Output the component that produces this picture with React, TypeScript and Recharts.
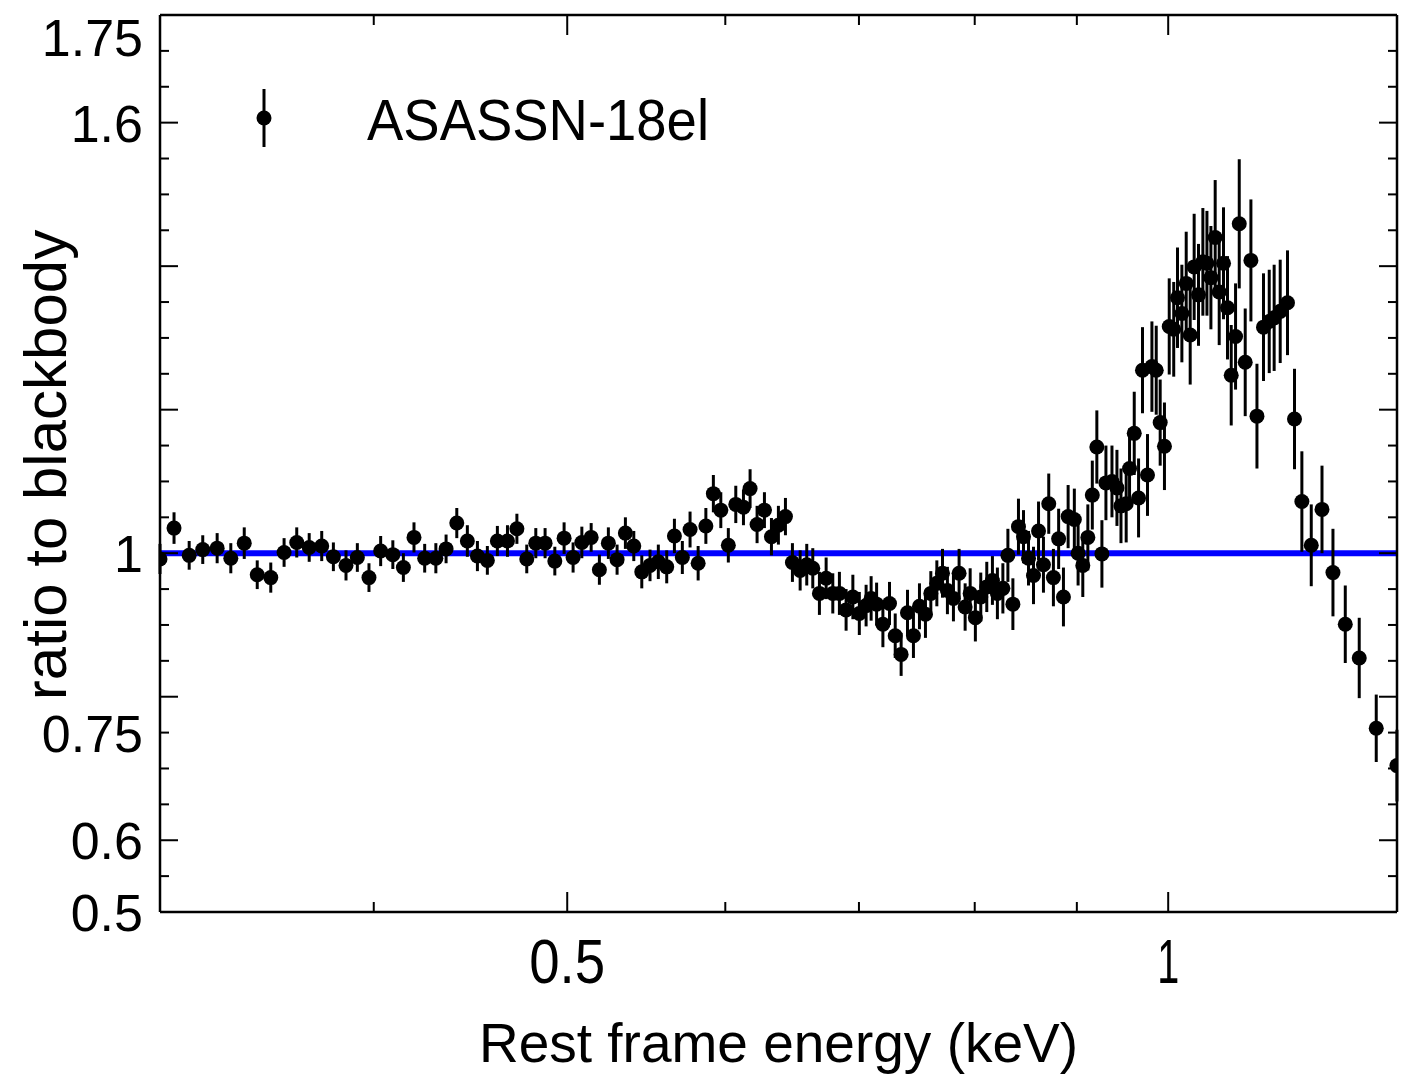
import React from "react";
import { ComposedChart, Scatter, Line, XAxis, YAxis, ErrorBar, Legend } from "recharts";

// rest frame energy (keV) of each bin
const energy = [
  0.3126, 0.3177, 0.3233, 0.3284, 0.3339, 0.3392, 0.3445, 0.3497, 0.3552, 0.3607,
  0.366, 0.3713, 0.3767, 0.3818, 0.3874, 0.3925, 0.3978, 0.4032, 0.4089, 0.4139,
  0.419, 0.4242, 0.4297, 0.4348, 0.4402, 0.4456, 0.4508, 0.456, 0.4613, 0.4667,
  0.4718, 0.4772, 0.4822, 0.4874, 0.4929, 0.4982, 0.5034, 0.5085, 0.514, 0.5189,
  0.5243, 0.5296, 0.5347, 0.5399, 0.5449, 0.5501, 0.5554, 0.5608, 0.5658, 0.571,
  0.5761, 0.5815, 0.5867, 0.5918, 0.5969, 0.6021, 0.6073, 0.6127, 0.6174, 0.6224,
  0.6277, 0.6328, 0.6379, 0.6431, 0.6483, 0.6541, 0.6591, 0.6637, 0.6688, 0.674,
  0.6792, 0.6844, 0.6897, 0.6951, 0.7003, 0.7058, 0.7099, 0.7144, 0.7196, 0.7251,
  0.7299, 0.7349, 0.7403, 0.7454, 0.7506, 0.7558, 0.7605, 0.7658, 0.7708, 0.7752,
  0.7806, 0.7857, 0.7912, 0.7958, 0.8006, 0.8056, 0.8112, 0.8165, 0.8212, 0.8264,
  0.8312, 0.836, 0.8414, 0.8463, 0.8512, 0.8561, 0.8611, 0.866, 0.8713, 0.876,
  0.8813, 0.8862, 0.891, 0.8974, 0.9013, 0.9062, 0.9115, 0.9162, 0.921, 0.9264,
  0.9307, 0.9372, 0.9426, 0.947, 0.9527, 0.9564, 0.9616, 0.9664, 0.9708, 0.9764,
  0.9814, 0.9863, 0.9908, 0.9957, 1.0012, 1.0064, 1.0108, 1.0159, 1.021, 1.0257,
  1.0304, 1.0356, 1.0408, 1.0457, 1.0505, 1.0557, 1.0606, 1.0659, 1.0708, 1.0754,
  1.0808, 1.0854, 1.0929, 1.1001, 1.1078, 1.1162, 1.1236, 1.13, 1.1379, 1.1475,
  1.1568, 1.1667, 1.1794, 1.1941, 1.2093, 1.2266, 1.2465, 1.2712, 1.3019,
];

// data / blackbody ratio
const ratio = [
  0.992, 1.035, 0.997, 1.005, 1.007, 0.993, 1.014, 0.97, 0.966, 1.001,
  1.015, 1.008, 1.01, 0.995, 0.983, 0.994, 0.966, 1.003, 0.998, 0.98,
  1.022, 0.993, 0.993, 1.006, 1.042, 1.017, 0.996, 0.99, 1.017, 1.017,
  1.034, 0.992, 1.014, 1.014, 0.989, 1.021, 0.994, 1.015, 1.022, 0.977,
  1.014, 0.991, 1.028, 1.01, 0.974, 0.983, 0.988, 0.981, 1.024, 0.994,
  1.033, 0.986, 1.038, 1.083, 1.06, 1.011, 1.068, 1.064, 1.09, 1.04,
  1.06, 1.023, 1.039, 1.051, 0.987, 0.976, 0.984, 0.979, 0.944, 0.965,
  0.944, 0.944, 0.921, 0.939, 0.916, 0.927, 0.937, 0.929, 0.901, 0.93,
  0.885, 0.859, 0.917, 0.885, 0.926, 0.915, 0.944, 0.958, 0.972, 0.948,
  0.937, 0.972, 0.925, 0.944, 0.91, 0.939, 0.953, 0.962, 0.944, 0.951,
  0.997, 0.929, 1.037, 1.023, 0.993, 0.969, 1.031, 0.984, 1.069, 0.966,
  1.02, 0.939, 1.051, 1.047, 1.0, 0.983, 1.022, 1.081, 1.148, 0.999,
  1.098, 1.1, 1.091, 1.066, 1.069, 1.118, 1.167, 1.077, 1.255, 1.109,
  1.26, 1.255, 1.182, 1.149, 1.316, 1.312, 1.356, 1.334, 1.376, 1.304,
  1.399, 1.36, 1.406, 1.404, 1.384, 1.44, 1.364, 1.404, 1.342, 1.248,
  1.302, 1.459, 1.266, 1.408, 1.191, 1.315, 1.323, 1.328, 1.337, 1.349,
  1.187, 1.072, 1.011, 1.061, 0.973, 0.901, 0.854, 0.756, 0.704,
];

// 1 sigma error on the ratio
const ratioErr = [
  0.021, 0.022, 0.02, 0.02, 0.021, 0.021, 0.022, 0.02, 0.021, 0.02,
  0.021, 0.02, 0.021, 0.02, 0.021, 0.02, 0.02, 0.021, 0.02, 0.02,
  0.021, 0.02, 0.021, 0.02, 0.021, 0.022, 0.021, 0.02, 0.021, 0.022,
  0.021, 0.02, 0.021, 0.021, 0.02, 0.022, 0.021, 0.022, 0.02, 0.021,
  0.022, 0.021, 0.022, 0.021, 0.023, 0.022, 0.024, 0.023, 0.024, 0.023,
  0.025, 0.024, 0.025, 0.026, 0.025, 0.024, 0.026, 0.025, 0.027, 0.026,
  0.025, 0.026, 0.027, 0.026, 0.027, 0.028, 0.029, 0.028, 0.03, 0.029,
  0.028, 0.03, 0.029, 0.031, 0.03, 0.029, 0.031, 0.03, 0.032, 0.03,
  0.031, 0.03, 0.032, 0.031, 0.032, 0.033, 0.031, 0.032, 0.034, 0.033,
  0.032, 0.034, 0.033, 0.035, 0.033, 0.034, 0.035, 0.034, 0.036, 0.035,
  0.037, 0.036, 0.039, 0.037, 0.038, 0.04, 0.041, 0.039, 0.042, 0.04,
  0.042, 0.041, 0.044, 0.043, 0.045, 0.044, 0.046, 0.048, 0.051, 0.047,
  0.052, 0.05, 0.053, 0.052, 0.054, 0.056, 0.058, 0.055, 0.06, 0.057,
  0.063, 0.062, 0.06, 0.061, 0.067, 0.066, 0.07, 0.068, 0.072, 0.069,
  0.074, 0.071, 0.075, 0.073, 0.072, 0.08, 0.074, 0.078, 0.072, 0.07,
  0.074, 0.09, 0.075, 0.085, 0.073, 0.075, 0.072, 0.074, 0.072, 0.073,
  0.07, 0.07, 0.057, 0.061, 0.061, 0.054, 0.056, 0.047, 0.05,
];

// blackbody model (ratio = 1)
const modelEnergy = [0.3126, 1.302];
const modelRatio = [1, 1];

const xDomain = [0.3126, 1.302];
const xTicks = [0.4, 0.5, 0.6, 0.7, 0.8, 0.9, 1];
const xMajor = [0.5, 1];
const xLabels = ["0.5", "1"];

const yDomain = [0.5, 1.75];
const yTicks = [
  0.5, 0.55, 0.6, 0.65, 0.7, 0.75, 0.8, 0.85, 0.9, 0.95, 1, 1.05, 1.1, 1.15,
  1.2, 1.25, 1.3, 1.35, 1.4, 1.45, 1.5, 1.55, 1.6, 1.65, 1.7, 1.75,
];
const yMajor = ["0.60", "0.80", "1.00", "1.20", "1.40", "1.60"];
const yLabels = ["0.5", "0.6", "0.75", "1", "1.6", "1.75"];

const legendName = "ASASSN-18el";

const FONT = "'Liberation Sans', Arial, sans-serif";

const points = energy.map((e, i) => ({ e, r: ratio[i], err: ratioErr[i] }));
const model = modelEnergy.map((e, i) => ({ e, m: modelRatio[i] }));

const isX = (v: number, list: number[]) => list.some((t) => Math.abs(t - v) < 1e-6);

const BottomTick = (p: any) => {
  const v = p.payload.value;
  const len = isX(v, xMajor) ? 20 : 10;
  const label = xLabels.find((s) => Math.abs(parseFloat(s) - v) < 1e-6);
  return (
    <g>
      <line x1={p.x} y1={p.y} x2={p.x} y2={p.y - len} stroke="#000" strokeWidth={2} />
      {label && (
        <text
          x={p.x}
          y={p.y + 71}
          textAnchor="middle"
          fontSize={63}
          fontFamily={FONT}
          fill="#000"
          textLength={label.length > 1 ? 76 : 22}
          lengthAdjust="spacingAndGlyphs"
        >
          {label}
        </text>
      )}
    </g>
  );
};

const TopTick = (p: any) => {
  const v = p.payload.value;
  const len = isX(v, xMajor) ? 20 : 10;
  return <line x1={p.x} y1={p.y} x2={p.x} y2={p.y + len} stroke="#000" strokeWidth={2} />;
};

const LeftTick = (p: any) => {
  const v = p.payload.value;
  const len = yMajor.includes(v.toFixed(2)) ? 18 : 9;
  const label = yLabels.find((s) => Math.abs(parseFloat(s) - v) < 1e-6);
  const dy = v > 1.7 ? 22 : 0;
  return (
    <g>
      <line x1={p.x} y1={p.y} x2={p.x + len} y2={p.y} stroke="#000" strokeWidth={2} />
      {label && (
        <text
          x={p.x - 17}
          y={p.y + dy + 19}
          textAnchor="end"
          fontSize={52}
          fontFamily={FONT}
          fill="#000"
        >
          {label}
        </text>
      )}
    </g>
  );
};

const RightTick = (p: any) => {
  const v = p.payload.value;
  const len = yMajor.includes(v.toFixed(2)) ? 18 : 9;
  return <line x1={p.x} y1={p.y} x2={p.x - len} y2={p.y} stroke="#000" strokeWidth={2} />;
};

const XTitle = (p: any) => {
  const vb = p.viewBox;
  return (
    <text x={vb.x + vb.width / 2} y={vb.y + 150} textAnchor="middle" fontSize={55} fontFamily={FONT} fill="#000">
      Rest frame energy (keV)
    </text>
  );
};

const YTitle = () => (
  <text
    x={58}
    y={457}
    transform="rotate(-90, 58, 457)"
    textAnchor="middle"
    fontSize={60}
    fontFamily={FONT}
    fill="#000"
  >
    ratio to blackbody
  </text>
);

const renderLegend = () => (
  <svg width={560} height={90} style={{ display: "block" }}>
    <line x1={36} y1={11} x2={36} y2={69} stroke="#000" strokeWidth={3} />
    <circle cx={36} cy={40} r={7.5} fill="#000" />
    <text x={139} y={62} fontSize={58} fontFamily={FONT} fill="#000" textLength={342} lengthAdjust="spacingAndGlyphs">
      {legendName}
    </text>
  </svg>
);

const Dot = (p: any) => <circle cx={p.cx} cy={p.cy} r={7.5} fill="#000" />;

const axisLine = { stroke: "#000", strokeWidth: 2.5 };

export default function App() {
  return (
    <div style={{ width: 1415, height: 1068, background: "#fff" }}>
      <ComposedChart width={1415} height={1068} margin={{ top: 6, right: 25, bottom: 0, left: 0 }}>
        <XAxis
          xAxisId="b"
          dataKey="e"
          type="number"
          scale="log"
          domain={xDomain}
          allowDataOverflow
          ticks={xTicks}
          interval={0}
          height={164}
          axisLine={axisLine}
          tickLine={false}
          tickSize={0}
          tickMargin={0}
          tick={<BottomTick />}
          label={<XTitle />}
        />
        <XAxis
          xAxisId="t"
          orientation="top"
          dataKey="e"
          type="number"
          scale="log"
          domain={xDomain}
          allowDataOverflow
          ticks={xTicks}
          interval={0}
          height={1}
          axisLine={axisLine}
          tickLine={false}
          tickSize={0}
          tickMargin={0}
          tick={<TopTick />}
        />
        <YAxis
          yAxisId="l"
          type="number"
          domain={yDomain}
          allowDataOverflow
          ticks={yTicks}
          interval={0}
          width={152}
          axisLine={axisLine}
          tickLine={false}
          tickSize={0}
          tickMargin={0}
          tick={<LeftTick />}
          label={<YTitle />}
        />
        <YAxis
          yAxisId="r"
          orientation="right"
          type="number"
          domain={yDomain}
          allowDataOverflow
          ticks={yTicks}
          interval={0}
          width={1}
          axisLine={axisLine}
          tickLine={false}
          tickSize={0}
          tickMargin={0}
          tick={<RightTick />}
        />
        <Legend
          layout="horizontal"
          verticalAlign="middle"
          align="center"
          content={renderLegend}
          wrapperStyle={{ position: "absolute", left: 220, top: 70, width: 560, height: 90 }}
        />
        <Line
          xAxisId="b"
          yAxisId="l"
          data={model}
          dataKey="m"
          type="linear"
          stroke="#0000ff"
          strokeWidth={6}
          dot={false}
          isAnimationActive={false}
        />
        <Scatter
          xAxisId="b"
          yAxisId="l"
          data={points}
          dataKey="r"
          shape={<Dot />}
          isAnimationActive={false}
        >
          <ErrorBar dataKey="err" direction="y" width={0} stroke="#000" strokeWidth={3} />
        </Scatter>
      </ComposedChart>
    </div>
  );
}
